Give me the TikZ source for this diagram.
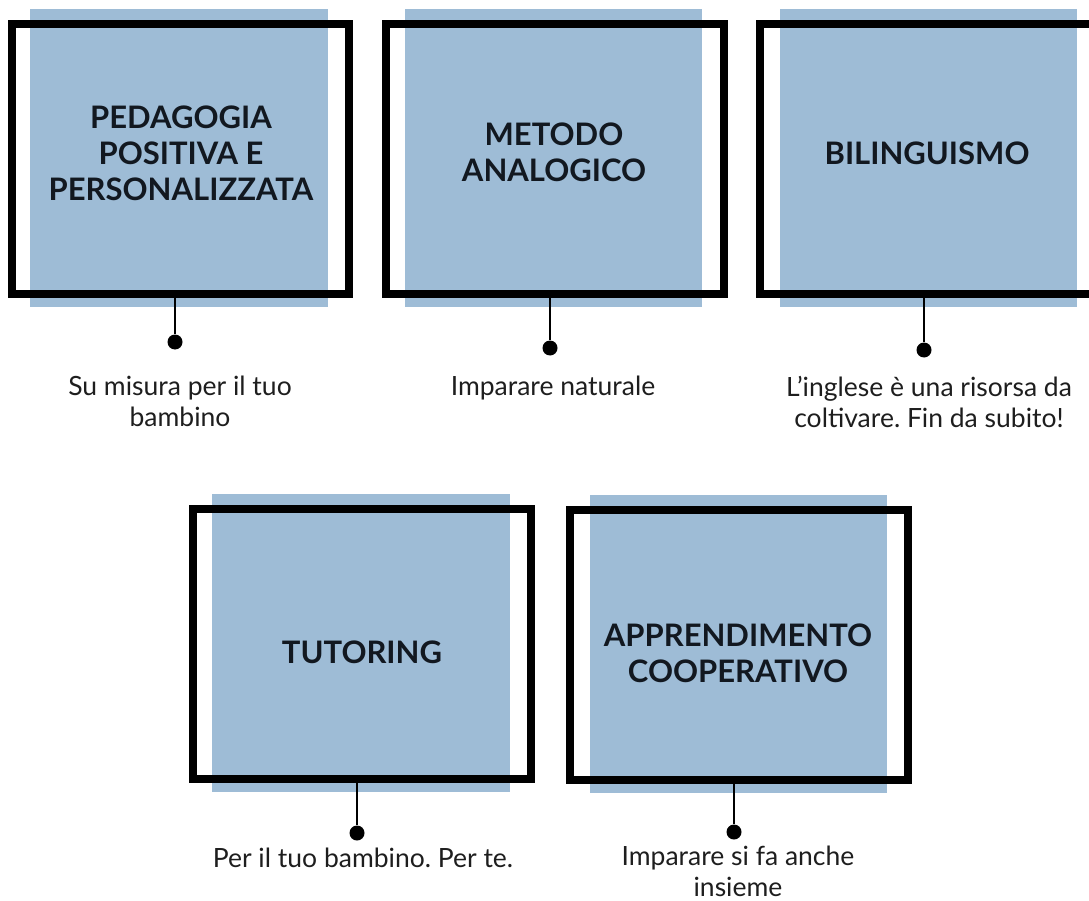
\documentclass[tikz,border=0pt]{standalone}
\usepackage{fontspec}
\setmainfont{Lato}
\frenchspacing
\definecolor{boxblue}{HTML}{9EBCD6}
\definecolor{ink}{HTML}{121820}
\definecolor{txt}{HTML}{1E1E1E}
\tikzset{
  bluebox/.style={fill=boxblue, draw=none, inner sep=0pt},
  framebox/.style={draw=black, line width=8pt, inner sep=0pt},
  title/.style={font=\fontsize{31}{36}\selectfont\bfseries, text=ink, align=center, inner sep=0pt},
  caption/.style={font=\fontsize{26.5}{31}\selectfont, text=txt, align=center, inner sep=0pt, anchor=base},
  dotnode/.style={circle, fill=black, minimum size=15pt, inner sep=0pt},
  link/.style={draw=black, line width=1.6pt}
}
\begin{document}
\begin{tikzpicture}[x=1pt,y=-1pt]
\useasboundingbox (0,0) rectangle (1089,901);
% Box 1
\node[bluebox, minimum width=298pt, minimum height=298pt] (b1) at (179,158) {};
\node[framebox, minimum width=337pt, minimum height=270pt] (f1) at (180.5,159) {};
\node[title] (t1) at (181,153) {PEDAGOGIA\\POSITIVA E\\PERSONALIZZATA};
\node[dotnode] (d1) at (175,342) {};
\node[caption] (c1) at (180,426) {Su misura per il tuo\\bambino};
\draw[link] (f1.south -| d1) -- (d1);
% Box 2
\node[bluebox, minimum width=297pt, minimum height=298pt] (b2) at (553.5,158) {};
\node[framebox, minimum width=338pt, minimum height=270pt] (f2) at (555,159) {};
\node[title] (t2) at (554,152) {METODO\\ANALOGICO};
\node[dotnode] (d2) at (550,348) {};
\node[caption] (c2) at (553,395) {Imparare naturale};
\draw[link] (f2.south -| d2) -- (d2);
% Box 3
\node[bluebox, minimum width=297pt, minimum height=298pt] (b3) at (928.5,158) {};
\node[framebox, minimum width=335pt, minimum height=270pt] (f3) at (927.5,159) {};
\node[title] (t3) at (927,153) {BILINGUISMO};
\node[dotnode] (d3) at (924,350) {};
\node[caption] (c3) at (929,427) {L’inglese è una risorsa da\\coltivare. Fin da subito!};
\draw[link] (f3.south -| d3) -- (d3);
% Box 4
\node[bluebox, minimum width=298pt, minimum height=298pt] (b4) at (361,643) {};
\node[framebox, minimum width=338pt, minimum height=270pt] (f4) at (362,644) {};
\node[title] (t4) at (362,652) {TUTORING};
\node[dotnode] (d4) at (357,833) {};
\node[caption] (c4) at (363,867) {Per il tuo bambino. Per te.};
\draw[link] (f4.south -| d4) -- (d4);
% Box 5
\node[bluebox, minimum width=297pt, minimum height=298pt] (b5) at (738.5,644) {};
\node[framebox, minimum width=338pt, minimum height=270pt] (f5) at (739,645) {};
\node[title] (t5) at (738,653) {APPRENDIMENTO\\COOPERATIVO};
\node[dotnode] (d5) at (734,832) {};
\node[caption] (c5) at (738,896) {Imparare si fa anche\\insieme};
\draw[link] (f5.south -| d5) -- (d5);
\end{tikzpicture}
\end{document}
